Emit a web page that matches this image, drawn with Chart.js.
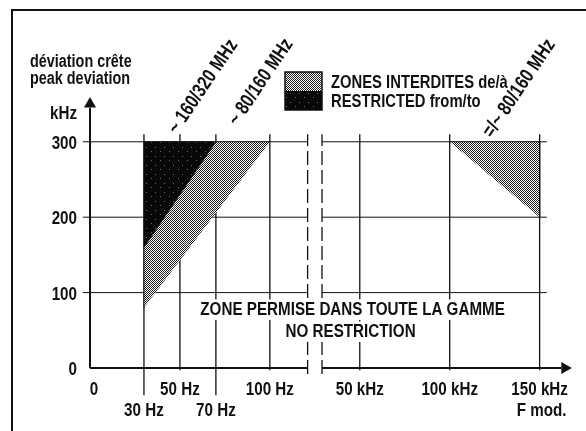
<!DOCTYPE html>
<html>
<head>
<meta charset="utf-8">
<script src="https://cdn.jsdelivr.net/npm/chart.js@4.4.1/dist/chart.umd.min.js"></script>
<style>
  html, body { margin: 0; padding: 0; background: #fff; }
  canvas { display: block; }
</style>
</head>
<body>
<canvas id="chartDeviation" width="586" height="431"></canvas>
<script>
// ===========================================
// Déviation crête / peak deviation vs F mod.
// ===========================================
// axe X "u" : 0..100 = Hz, puis 100 + kHz apres la coupure

const FONT = "'Liberation Sans', Arial, sans-serif";
const NARROW = 0.8; // compression horizontale (police condensee)

// ticks
const xTicks = [0, 30, 50, 70, 100, 150, 200, 250];
const xTickLabels = ['0', '30 Hz', '50 Hz', '70 Hz', '100 Hz', '50 kHz', '100 kHz', '150 kHz'];
const xLowerRow = [30, 70];
const xAxisTitle = 'F mod.';
const yTicks = [0, 100, 200, 300];
const yUnit = { value: 340, label: 'kHz' };
const axisBreak = [121, 129];

// zones interdites (u, kHz)
const zone320 = [[30, 160], [30, 300], [70, 300]];
const zone160 = [[30, 80], [30, 160], [70, 300], [100, 300]];
const zoneKHz = [[200, 300], [250, 300], [250, 200]];

// etiquettes inclinees
const slantLabels = [
    { text: '~ 160/320 MHz', u: 48.5, v: 309 },
    { text: '~ 80/160 MHz', u: 82, v: 320 },
    { text: '=/~ 80/160 MHz', u: 223.5, v: 304 }
];

// ============================
// motifs
// ============================
function makePattern(size, draw) {
    const c = document.createElement('canvas');
    c.width = size; c.height = size;
    const g = c.getContext('2d');
    draw(g);
    return document.getElementById('chartDeviation').getContext('2d').createPattern(c, 'repeat');
}
const lightPattern = makePattern(2, g => {
    g.fillStyle = '#fff'; g.fillRect(0, 0, 2, 2);
    g.fillStyle = '#222'; g.fillRect(0, 0, 1, 1); g.fillRect(1, 1, 1, 1);
});
const darkPattern = makePattern(9, g => {
    g.fillStyle = '#080808'; g.fillRect(0, 0, 9, 9);
    g.fillStyle = '#6a6a6a'; g.fillRect(2, 3, 1, 1); g.fillRect(7, 7, 1, 1);
});

const pts = arr => arr.map(([x, y]) => ({ x, y }));
const GAP = { x: null, y: null };

// lignes horizontales (coupees a la rupture)
const hGrid = [];
yTicks.filter(v => v > 0).forEach(v => {
    hGrid.push({ x: -4, y: v }, { x: axisBreak[0], y: v }, GAP, { x: axisBreak[1], y: v }, { x: 254, y: v }, GAP);
});
// lignes verticales
const vGrid = [];
xTicks.filter(u => u > 0).forEach(u => {
    vGrid.push({ x: u, y: xLowerRow.includes(u) ? -36 : -3 }, { x: u, y: 310 }, GAP);
});
const breakLines = [];
axisBreak.forEach(u => breakLines.push({ x: u, y: -8 }, { x: u, y: 310 }, GAP));
const xAxisLine = [{ x: 0, y: 0 }, { x: axisBreak[0], y: 0 }, GAP, { x: axisBreak[1], y: 0 }, { x: 262, y: 0 }];
const yAxisLine = [{ x: 0, y: 0 }, { x: 0, y: 345 }];

const lineDs = (data, extra) => Object.assign({
    data, showLine: true, pointRadius: 0, borderColor: '#111', borderWidth: 1,
    fill: false, clip: false, spanGaps: false
}, extra);

// texte condense
function text(ctx, str, x, y, opts) {
    const o = Object.assign({ size: 19, align: 'left', rot: 0, knockout: false }, opts);
    ctx.save();
    ctx.translate(x, y);
    if (o.rot) ctx.rotate(o.rot * Math.PI / 180);
    ctx.scale(NARROW, 1);
    ctx.font = `bold ${o.size}px ${FONT}`;
    ctx.textAlign = o.align;
    ctx.textBaseline = 'alphabetic';
    if (o.knockout) {
        const w = ctx.measureText(str).width;
        const x0 = o.align === 'center' ? -w / 2 : o.align === 'right' ? -w : 0;
        const fs = ctx.fillStyle;
        ctx.fillStyle = '#fff';
        ctx.fillRect(x0 - 3, -o.size * 0.82, w + 6, o.size * 1.08);
        ctx.fillStyle = fs;
    }
    ctx.fillText(str, 0, 0);
    ctx.restore();
}

// ============================
// plugin : cadre, textes, legende
// ============================
const decorPlugin = {
    id: 'decor',
    beforeDraw(chart) {
        const ctx = chart.ctx;
        ctx.save();
        ctx.fillStyle = '#fff';
        ctx.fillRect(0, 0, chart.width, chart.height);
        ctx.strokeStyle = '#111';
        ctx.lineWidth = 2;
        ctx.beginPath();
        ctx.moveTo(12, 431); ctx.lineTo(12, 10); ctx.lineTo(586, 10);
        ctx.stroke();
        ctx.restore();
    },
    afterDraw(chart) {
        const ctx = chart.ctx;
        const xs = chart.scales.x, ys = chart.scales.y;
        ctx.save();
        ctx.fillStyle = '#111';

        // graduations Y
        yTicks.forEach(v => text(ctx, String(v), 77, ys.getPixelForValue(v) + 7, { align: 'right' }));
        text(ctx, yUnit.label, 77, ys.getPixelForValue(yUnit.value) + 7, { align: 'right' });

        // graduations X
        xTicks.forEach((u, i) => {
            const row = xLowerRow.includes(u) ? 1 : 0;
            const px = xs.getPixelForValue(u) + (u === 0 ? 4 : 0);
            text(ctx, xTickLabels[i], px, 395 + row * 21, { align: 'center' });
        });
        text(ctx, xAxisTitle, xs.getPixelForValue(xTicks[xTicks.length - 1]) + 2, 416, { align: 'center' });

        // titre de l'axe Y
        text(ctx, 'déviation crête', 30, 67, { size: 18 });
        text(ctx, 'peak deviation', 30, 84, { size: 18 });

        // zone permise
        const cx = xs.getPixelForValue(146);
        text(ctx, 'ZONE PERMISE DANS TOUTE LA GAMME', cx, 315, { align: 'center', knockout: true });
        text(ctx, 'NO RESTRICTION', cx - 2, 337, { align: 'center', knockout: true });

        // legende
        const lx = 285, ly = 72, lw = 37, lh = 38;
        ctx.fillStyle = lightPattern; ctx.fillRect(lx, ly, lw, lh / 2);
        ctx.fillStyle = darkPattern; ctx.fillRect(lx, ly + lh / 2, lw, lh / 2);
        ctx.strokeStyle = '#111'; ctx.lineWidth = 1.5;
        ctx.strokeRect(lx, ly, lw, lh);
        ctx.fillStyle = '#111';
        text(ctx, 'ZONES INTERDITES de/à', 331, 88, { size: 18.5 });
        text(ctx, 'RESTRICTED from/to', 331, 107, { size: 18.5 });

        // etiquettes inclinees
        slantLabels.forEach(l => {
            text(ctx, l.text, xs.getPixelForValue(l.u), ys.getPixelForValue(l.v), { size: 20, rot: -56 });
        });
        ctx.restore();
    }
};

new Chart(document.getElementById('chartDeviation').getContext('2d'), {
    type: 'scatter',
    data: {
        datasets: [
            lineDs(pts(zone320), { fill: 'shape', backgroundColor: darkPattern, order: 1, clip: true }),
            lineDs(pts(zone160), { fill: 'shape', backgroundColor: lightPattern, order: 2, clip: true, borderWidth: 0.8 }),
            lineDs(pts(zoneKHz), { fill: 'shape', backgroundColor: lightPattern, order: 2, clip: true, borderWidth: 0.8 }),
            lineDs(hGrid, { order: 5 }),
            lineDs(vGrid, { order: 5, borderWidth: 1.3 }),
            lineDs(breakLines, { order: 5, borderDash: [14, 5], borderWidth: 1.3 }),
            lineDs(xAxisLine, { order: 0, borderWidth: 2 }),
            lineDs(yAxisLine, { order: 0, borderWidth: 2 }),
            // fleches
            {
                data: [{ x: 0, y: 350 }], pointStyle: 'triangle', pointRadius: 7,
                backgroundColor: '#111', borderColor: '#111', borderWidth: 0, clip: false, order: 0
            },
            {
                data: [{ x: 264, y: 0 }], pointStyle: 'triangle', pointRotation: 90, pointRadius: 7,
                backgroundColor: '#111', borderColor: '#111', borderWidth: 0, clip: false, order: 0
            }
        ]
    },
    options: {
        responsive: false,
        animation: false,
        layout: { padding: { top: 89, right: 14, left: 90, bottom: 63 } },
        scales: {
            x: { type: 'linear', min: 0, max: 268, display: false },
            y: { type: 'linear', min: 0, max: 370, display: false }
        },
        plugins: {
            legend: { display: false },
            tooltip: { enabled: false }
        }
    },
    plugins: [decorPlugin]
});
</script>
</body>
</html>
